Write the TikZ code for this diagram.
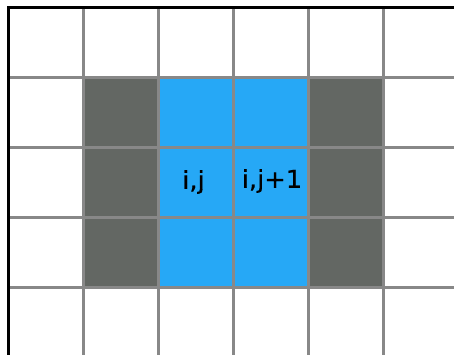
\documentclass[tikz,border=0pt]{standalone}
\usepackage{fontspec}
\newfontfamily\labfont[FakeStretch=1.05,FakeBold=0.6]{DejaVu Sans}
\definecolor{cellblue}{HTML}{26A8F6}
\definecolor{celldark}{HTML}{636763}
\definecolor{gridgray}{HTML}{888888}
\tikzset{
  cell/.style={draw=none, inner sep=0pt, minimum width=75pt, minimum height=70pt},
  gridline/.style={draw=gridgray, line width=3pt},
  frameline/.style={draw=black, line width=3pt},
  lab/.style={inner sep=0pt, font=\labfont\fontsize{24.5}{29}\selectfont}
}
\begin{document}
\begin{tikzpicture}[x=1pt,y=-1pt]
\useasboundingbox[fill=white] (0,0) rectangle (454,355);
% coloured cells
\foreach \r/\y in {2/113,3/182.5,4/252}{
  \node[cell, fill=celldark] (d\r a) at (120.5,\y) {};
  \node[cell, fill=cellblue] (b\r a) at (195.5,\y) {};
  \node[cell, fill=cellblue] (b\r b) at (270.5,\y) {};
  \node[cell, fill=celldark] (d\r b) at (345.5,\y) {};
}
% grid lines
\foreach \x in {83,158,233,308,383}{
  \draw[gridline] (\x,8) -- (\x,356);
}
\foreach \y in {78,148,217,287}{
  \draw[gridline] (8,\y) -- (455,\y);
}
% frame (top and left)
\draw[frameline] (8,356) -- (8,8) -- (455,8);
% labels
\node[lab] (ij) at (193.5,182) {i,j};
\node[lab] (ij1) at (272,181) {i,j+1};
\end{tikzpicture}
\end{document}
